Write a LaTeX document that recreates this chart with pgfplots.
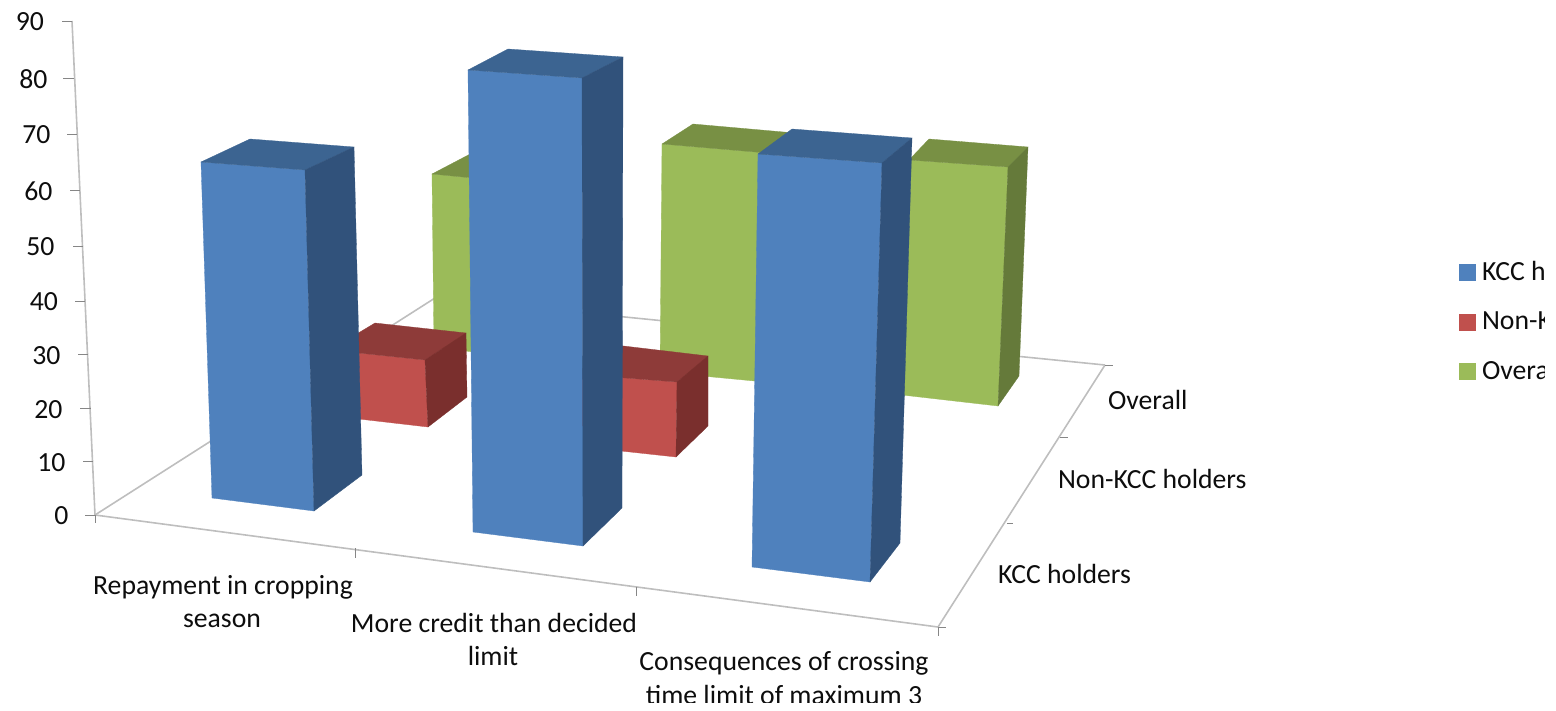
\documentclass[border=0pt]{standalone}
\usepackage{pgfplots}
\pgfplotsset{compat=1.18}
\usepackage{fontspec}
\setmainfont{Carlito}
\definecolor{bF}{HTML}{4F81BD}\definecolor{bT}{HTML}{3C6491}\definecolor{bS}{HTML}{31527B}
\definecolor{rF}{HTML}{C0504D}\definecolor{rT}{HTML}{8E3B39}\definecolor{rS}{HTML}{7A2F2D}
\definecolor{gF}{HTML}{9BBB59}\definecolor{gT}{HTML}{789044}\definecolor{gS}{HTML}{657A3A}
\definecolor{wall}{HTML}{BEBEBE}\definecolor{tk}{HTML}{868686}
\newcommand\bigfont{\fontsize{27.7}{27.7}\selectfont}
\tikzset{lab/.style={inner sep=0pt,outer sep=0pt,font=\bigfont,text=black!95}}
% Each bar: front, top, side faces in picture coordinates of the perspective view.
% Bar values (read against the 0-90 scale): KCC 62, 84, 74; Non-KCC 20, 20, ~0 ; Overall 44, 59, 60
\newcommand\face[2]{\addplot[fill=#1,draw=#1,line width=0.3pt,forget plot] coordinates {#2} -- cycle;}
\newcommand\ax[1]{\addplot[wall,line width=1.6pt,forget plot] coordinates {#1};}
\newcommand\tic[1]{\addplot[tk,line width=0.9pt,forget plot] coordinates {#1};}
\begin{document}
\begin{tikzpicture}
\path (0,-8pt) rectangle (1556pt,702pt);
\begin{axis}[at={(0,0)},anchor=south west,scale only axis,width=1544pt,height=702pt,
  xmin=0,xmax=1544,ymin=0,ymax=702,y dir=reverse,hide axis,clip=true]
% floor and walls
\ax{(95,515)(435,298)}
\ax{(435,298)(1105,365)}
\ax{(72,21)(95,515)}
\ax{(95,515)(938,627)}
\ax{(938,627)(1105,365)}
% value ticks
\tic{(62,21)(72,21)}\tic{(63,78)(74,78)}\tic{(67,134)(77,134)}\tic{(70,190)(80,190)}
\tic{(73,246)(83,246)}\tic{(75,301)(85,301)}\tic{(78,354)(88,354)}\tic{(80,408)(91,408)}
\tic{(83,461)(93,461)}\tic{(85,515)(95,515)}
\tic{(95,515)(95,523)}\tic{(355.5,548)(355.5,558)}\tic{(636,587)(636,596)}\tic{(938,627)(938,636)}
\tic{(1105,365)(1113,365)}\tic{(1060,437)(1068,437)}\tic{(1007,523)(1013,523)}\tic{(938,627)(946,627)}
% Overall
\face{gF}{(432,174)(535,184)(537,360)(434,347)}
\face{gT}{(432,174)(474,152)(575,162)(535,184)}
\face{gF}{(662,144)(767,153)(765,382)(660,372)}
\face{gT}{(662,144)(693,124)(795,133)(767,153)}
\face{gF}{(909,160)(1008,167)(998,406)(902,395)}
\face{gT}{(909,160)(929,139)(1028,147)(1008,167)}
\face{gS}{(1008,167)(1028,147)(1019,376)(998,406)}
% Non-KCC holders
\face{rF}{(330,350)(425,360)(428,427)(333,416)}
\face{rT}{(330,350)(375,323)(466,333)(425,360)}
\face{rS}{(425,360)(466,333)(467,397)(428,427)}
\face{rF}{(575,374)(677,382)(676,457)(575,446)}
\face{rT}{(575,374)(615,345)(708,356)(677,382)}
\face{rS}{(677,382)(708,356)(708,426)(676,457)}
% KCC holders
\face{bF}{(201,162)(305,170)(314,511)(212,498)}
\face{bT}{(201,162)(250,139)(354,147)(305,170)}
\face{bS}{(305,170)(354,147)(362,475)(314,511)}
\face{bF}{(468,70)(582,78)(583,546)(473,532)}
\face{bT}{(468,70)(508,49)(623,57)(582,78)}
\face{bS}{(582,78)(623,57)(622,508)(583,546)}
\face{bF}{(758,154)(882,163)(870,582)(752,567)}
\face{bT}{(758,154)(792,129)(912,138)(882,163)}
\face{bS}{(882,163)(912,138)(900,543)(870,582)}
% legend keys
\face{bF}{(1459,264)(1475,264)(1475,280)(1459,280)}
\face{rF}{(1459,314)(1475,314)(1475,330)(1459,330)}
\face{gF}{(1459,363)(1475,363)(1475,379)(1459,379)}
% value labels
\node[lab,anchor=east] at (axis cs:44,22) {90};
\node[lab,anchor=east] at (axis cs:47.5,79) {80};
\node[lab,anchor=east] at (axis cs:50.5,135) {70};
\node[lab,anchor=east] at (axis cs:52.5,191) {60};
\node[lab,anchor=east] at (axis cs:54.5,247) {50};
\node[lab,anchor=east] at (axis cs:58,302) {40};
\node[lab,anchor=east] at (axis cs:60.5,356) {30};
\node[lab,anchor=east] at (axis cs:62.5,410) {20};
\node[lab,anchor=east] at (axis cs:65.5,463) {10};
\node[lab,anchor=east] at (axis cs:68.5,516) {0};
% category labels
\node[lab,anchor=base] at (axis cs:223,594.5) {Repayment in cropping};
\node[lab,anchor=base] at (axis cs:222,627) {season};
\node[lab,anchor=base] at (axis cs:494,632) {More credit than decided};
\node[lab,anchor=base] at (axis cs:493,665) {limit};
\node[lab,anchor=base] at (axis cs:784,670) {Consequences of crossing};
\node[lab,anchor=base] at (axis cs:784,704) {time limit of maximum 3};
% series labels
\node[lab,anchor=base west] at (axis cs:1108,409) {Overall};
\node[lab,anchor=base west] at (axis cs:1058,488) {Non-KCC holders};
\node[lab,anchor=base west] at (axis cs:998,583.5) {KCC holders};
% legend labels
\node[lab,anchor=base west] at (axis cs:1482,280) {KCC holders};
\node[lab,anchor=base west] at (axis cs:1482,329.5) {Non-KCC holders};
\node[lab,anchor=base west] at (axis cs:1482,379) {Overall};
\end{axis}
\end{tikzpicture}
\end{document}
